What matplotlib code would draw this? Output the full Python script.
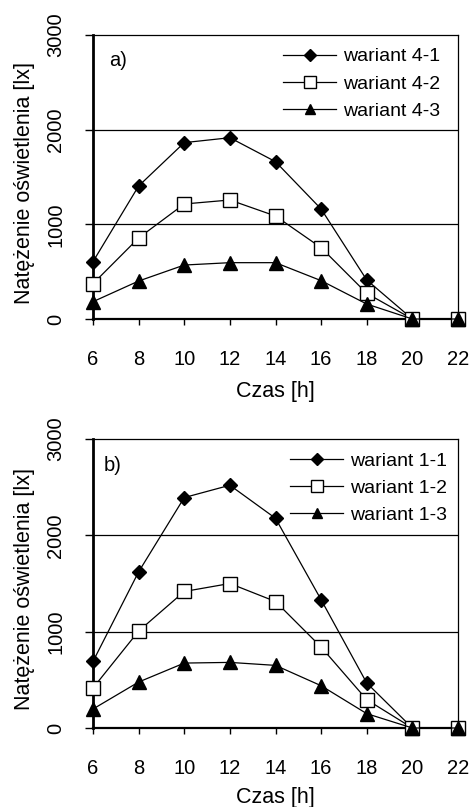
import matplotlib
matplotlib.use("Agg")
import matplotlib.pyplot as plt

plt.rcParams['font.family'] = ['Liberation Sans', 'DejaVu Sans']

hours = [6, 8, 10, 12, 14, 16, 18, 20, 22]
x_ticks = [6, 8, 10, 12, 14, 16, 18, 20, 22]
y_ticks = [0, 1000, 2000, 3000]

# panel a)
a_labels = ['wariant 4-1', 'wariant 4-2', 'wariant 4-3']
a_41 = [606, 1405, 1863, 1915, 1662, 1162, 412, 0, 0]
a_42 = [373, 856, 1215, 1257, 1088, 753, 271, 0, 0]
a_43 = [183, 401, 570, 595, 595, 405, 158, 0, 0]

# panel b)
b_labels = ['wariant 1-1', 'wariant 1-2', 'wariant 1-3']
b_11 = [691, 1621, 2392, 2520, 2177, 1331, 467, 0, 0]
b_12 = [415, 1006, 1417, 1500, 1313, 840, 294, 0, 0]
b_13 = [197, 477, 674, 681, 650, 439, 149, 0, 0]

fig = plt.figure(figsize=(4.71, 8.07), dpi=100)
W, H = 471, 807
LEFT, RIGHT = 93, 458

def make_axes(top_px, bottom_px):
    return fig.add_axes([LEFT / W, 1 - bottom_px / H, (RIGHT - LEFT) / W, (bottom_px - top_px) / H])

ax_a = make_axes(35, 319)
ax_b = make_axes(439, 728)

def draw(ax, s1, s2, s3, labels, tag, tag_x, leg_x, xlabel_y, ylabel_y):
    ax.plot(hours, s1, color='black', lw=0.9, marker='D', ms=7.6, mfc='black', mec='black',
            clip_on=False, zorder=5, label=labels[0])
    ax.plot(hours, s2, color='black', lw=0.9, marker='s', ms=10.5, mfc='white', mec='black',
            mew=1.0, clip_on=False, zorder=5, label=labels[1])
    ax.plot(hours, s3, color='black', lw=0.9, marker='^', ms=9.5, mfc='black', mec='black',
            clip_on=False, zorder=5, label=labels[2])
    ax.set_xlim(6, 22)
    ax.set_ylim(0, 3000)
    ax.set_xticks(x_ticks)
    ax.set_yticks(y_ticks)
    ax.set_xticklabels([str(v) for v in x_ticks], fontsize=14.5)
    ax.set_yticklabels([str(v) for v in y_ticks], fontsize=14.5, rotation=90, va='center')
    ax.tick_params(axis='x', direction='out', length=4, width=1, pad=18)
    ax.tick_params(axis='y', direction='out', length=6, width=1, pad=14)
    for y in [1000, 2000]:
        ax.axhline(y, color='black', lw=0.9, zorder=1)
    for side in ['top', 'right']:
        ax.spines[side].set_linewidth(0.9)
    ax.spines['left'].set_linewidth(2.0)
    ax.spines['bottom'].set_linewidth(1.6)
    ax.set_xlabel('Czas [h]', fontsize=15.5)
    ax.xaxis.set_label_coords(0.5, xlabel_y)
    ax.set_ylabel('Natężenie oświetlenia [lx]', fontsize=15.5, va='center')
    ax.yaxis.set_label_coords(-0.189, ylabel_y)
    ax.text(tag_x, 0.91, tag, transform=ax.transAxes, fontsize=14.5, va='center', ha='left')
    ax.legend(loc='upper left', bbox_to_anchor=(leg_x, 0.955), frameon=False, fontsize=14,
              handlelength=2.75, handletextpad=0.35, labelspacing=0.5, borderaxespad=0,
              borderpad=0, markerscale=0.8)

draw(ax_a, a_41, a_42, a_43, a_labels, 'a)', 0.045, (283 - LEFT) / (RIGHT - LEFT), -0.218, 0.48)
draw(ax_b, b_11, b_12, b_13, b_labels, 'b)', 0.028, (290 - LEFT) / (RIGHT - LEFT), -0.204, 0.48)

fig.savefig('out.png', dpi=100, facecolor='white')
